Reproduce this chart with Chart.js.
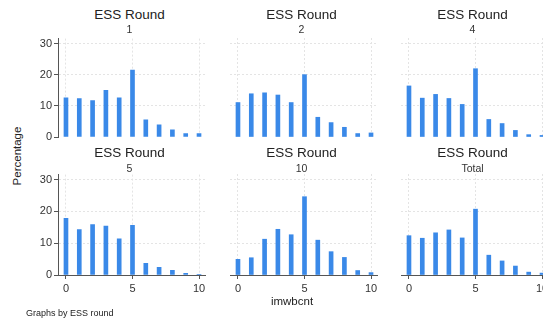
<!DOCTYPE html>
<html>
<head>
<meta charset="utf-8">
<script src="https://cdn.jsdelivr.net/npm/chart.js@4"></script>
<style>
    html, body { margin: 0; padding: 0; background: #fff; }
    body { width: 543px; height: 325px; position: relative; overflow: hidden; font-family: "Liberation Sans", Arial, sans-serif; color: #222; }
    .pane { position: absolute; }
    .txt { position: absolute; white-space: nowrap; transform: translate(-50%, -50%); }
    .ttl { font-size: 13.5px; color: #222; }
    .sub { font-size: 10.5px; color: #333; }
</style>
</head>
<body>
<div id="charts"></div>
<div class="txt" style="left:17px; top:156px; font-size:11.5px; transform:translate(-50%,-50%) rotate(-90deg);">Percentage</div>
<div class="txt" style="left:292px; top:301px; font-size:11.5px;">imwbcnt</div>
<div class="txt" style="left:26px; top:313px; font-size:9px; transform:translate(0,-50%);">Graphs by ESS round</div>

<script>
const categories = [0, 1, 2, 3, 4, 5, 6, 7, 8, 9, 10];
const panelLabels = ['1', '2', '4', '5', '10', 'Total'];
const round1 = [12.6, 12.3, 11.7, 15.0, 12.6, 21.5, 5.5, 3.9, 2.3, 1.1, 1.1];
const round2 = [11.0, 13.8, 14.1, 13.4, 11.0, 19.9, 6.3, 4.6, 3.1, 1.1, 1.3];
const round4 = [16.3, 12.4, 13.6, 12.3, 10.4, 21.8, 5.6, 4.3, 2.1, 0.75, 0.5];
const round5 = [17.8, 14.3, 15.9, 15.4, 11.4, 15.6, 3.7, 2.4, 1.5, 0.5, 0.2];
const round10 = [4.9, 5.4, 11.2, 14.3, 12.6, 24.5, 10.9, 7.3, 5.5, 1.4, 0.75];
const total = [12.3, 11.5, 13.2, 14.1, 11.6, 20.6, 6.2, 4.4, 2.8, 0.9, 0.6];
const yTicks = [0, 10, 20, 30];
const xTicks = [0, 5, 10];

const series = [round1, round2, round4, round5, round10, total];
const barColor = '#3a89e8';
const gridColor = '#e4e4e4';
const axisColor = '#555';

// chart area geometry for each column / row
const colLeft = [58, 230, 401];
const areaW = 147;
const rows = [
    { top: 38, bottom: 137, xAxis: false, titleY: 14, subY: 29 },
    { top: 174, bottom: 275, xAxis: true, titleY: 152, subY: 168 }
];
const yAxisW = 30;

const holder = document.getElementById('charts');

series.forEach((vals, i) => {
    const col = i % 3;
    const row = rows[Math.floor(i / 3)];
    const showY = col === 0;
    const padTop = 8;
    const xAxisH = row.xAxis ? 22 : 0;
    const padBottom = 14;
    const padSide = 8;

    const left = colLeft[col] - (showY ? yAxisW : 0);
    const top = row.top - padTop;
    const width = (showY ? yAxisW : 0) + areaW + padSide;
    const height = row.bottom - row.top + padTop + xAxisH + padBottom;

    const pane = document.createElement('div');
    pane.className = 'pane';
    pane.style.left = left + 'px';
    pane.style.top = top + 'px';
    pane.style.width = width + 'px';
    pane.style.height = height + 'px';
    const canvas = document.createElement('canvas');
    pane.appendChild(canvas);
    holder.appendChild(pane);

    const cx = colLeft[col] + areaW / 2 - 2;
    const t1 = document.createElement('div');
    t1.className = 'txt ttl';
    t1.style.left = cx + 'px';
    t1.style.top = row.titleY + 'px';
    t1.textContent = 'ESS Round';
    document.body.appendChild(t1);
    const t2 = document.createElement('div');
    t2.className = 'txt sub';
    t2.style.left = cx + 'px';
    t2.style.top = row.subY + 'px';
    t2.textContent = panelLabels[i];
    document.body.appendChild(t2);

    new Chart(canvas, {
        type: 'bar',
        data: {
            datasets: [{
                data: categories.map((c, k) => ({ x: c, y: vals[k] })),
                backgroundColor: barColor,
                borderWidth: 0,
                barThickness: 4
            }]
        },
        options: {
            responsive: true,
            maintainAspectRatio: false,
            animation: false,
            layout: { padding: { top: padTop, bottom: padBottom, left: 0, right: padSide } },
            plugins: { legend: { display: false }, tooltip: { enabled: false } },
            scales: {
                x: {
                    type: 'linear',
                    offset: false,
                    min: -0.6,
                    max: 10.45,
                    afterBuildTicks: s => { s.ticks = xTicks.map(v => ({ value: v })); },
                    afterFit: s => { s.height = xAxisH; },
                    grid: {
                        offset: false,
                        color: gridColor,
                        lineWidth: 1,
                        drawTicks: row.xAxis,
                        tickLength: 4,
                        tickColor: axisColor
                    },
                    border: { display: row.xAxis, color: axisColor, dash: [2, 2] },
                    ticks: {
                        display: row.xAxis,
                        color: '#333',
                        padding: 3,
                        maxRotation: 0,
                        font: { family: '"Liberation Sans", Arial, sans-serif', size: 11 }
                    }
                },
                y: {
                    min: 0,
                    max: 31.6,
                    afterBuildTicks: s => { s.ticks = yTicks.map(v => ({ value: v })); },
                    afterFit: s => { s.width = showY ? yAxisW : 0; },
                    grid: {
                        color: c => (c.tick && c.tick.value === 0) ? 'rgba(0,0,0,0)' : gridColor,
                        drawTicks: showY,
                        tickLength: 4,
                        tickColor: axisColor
                    },
                    border: { display: showY, color: axisColor, dash: [2, 2] },
                    ticks: {
                        display: showY,
                        color: '#333',
                        padding: 2,
                        font: { family: '"Liberation Sans", Arial, sans-serif', size: 11 }
                    }
                }
            }
        }
    });
});
</script>
</body>
</html>
